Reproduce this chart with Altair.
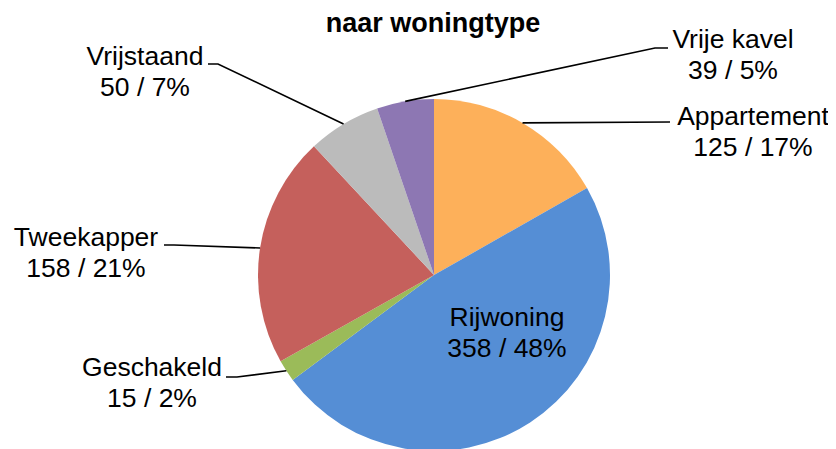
import math
import altair as alt
import pandas as pd

# ---- data ----
categories = ["Appartement", "Rijwoning", "Geschakeld", "Tweekapper", "Vrijstaand", "Vrije kavel"]
values = [125, 358, 15, 158, 50, 39]
colors = ["#FDB05A", "#558ED5", "#9BBB59", "#C5605C", "#BBBBBB", "#8D77B3"]
title_text = "naar woningtype"

# ---- layout (pixels inside the plot area) ----
W, H = 820, 441
CX, CY, R = 426, 267, 176
# label centre (x, y of first line), elbow point, line end point next to the label
label_pos = {
    "Appartement": (745, 109, 662, 114, 662, 114),
    "Rijwoning":   (499, 310, None, None, None, None),
    "Geschakeld":  (144, 360, 229, 369, 218, 369),
    "Tweekapper":  (78, 230, 166, 237, 156, 237),
    "Vrijstaand":  (137, 49, 210, 56, 200, 56),
    "Vrije kavel": (725, 32, 647, 40, 660, 40),
}
LINE_GAP = 31

total = sum(values)
df = pd.DataFrame({"cat": categories, "value": values, "order": range(len(categories))})

# text rows and leader lines
text_rows = []
line_rows = []
cum = 0.0
for c, v in zip(categories, values):
    mid = (cum + v / 2) / total * 2 * math.pi
    cum += v
    lx, ly, ex, ey, tx, ty = label_pos[c]
    pct = round(v / total * 100)
    text_rows.append({"t": c, "x": lx, "y": ly, "cat": c})
    text_rows.append({"t": f"{v} / {pct}%", "x": lx, "y": ly + LINE_GAP, "cat": c})
    if ex is not None:
        px = CX + R * math.sin(mid)
        py = CY - R * math.cos(mid)
        line_rows += [
            {"cat": c, "i": 0, "x": px, "y": py},
            {"cat": c, "i": 1, "x": ex, "y": ey},
            {"cat": c, "i": 2, "x": tx, "y": ty},
        ]
tdf = pd.DataFrame(text_rows)
ldf = pd.DataFrame(line_rows)

pie = alt.Chart(df).mark_arc(radius=R).encode(
    theta=alt.Theta("value:Q", stack=True),
    order=alt.Order("order:Q"),
    color=alt.Color("cat:N", scale=alt.Scale(domain=categories, range=colors), legend=None),
    x=alt.value(CX),
    y=alt.value(CY),
)

lines = alt.Chart(ldf).mark_line(color="black", strokeWidth=1.6).encode(
    x=alt.X("x:Q", scale=None),
    y=alt.Y("y:Q", scale=None),
    detail="cat:N",
    order="i:Q",
)

labels = alt.Chart(tdf).mark_text(
    font="Liberation Sans", fontSize=26.5, color="black", align="center", baseline="middle"
).encode(
    x=alt.X("x:Q", scale=None),
    y=alt.Y("y:Q", scale=None),
    text="t:N",
)

title = alt.Chart(pd.DataFrame({"t": [title_text]})).mark_text(
    font="Liberation Sans", fontSize=27, fontWeight="bold", color="black", align="center", baseline="middle"
).encode(
    x=alt.value(425),
    y=alt.value(16),
    text="t:N",
)

chart = alt.layer(pie, lines, labels, title).properties(
    width=W, height=H, padding=0, autosize=alt.AutoSizeParams(type="none")
).configure_view(stroke=None)

chart.save("out.html", embed_options={"renderer": "svg", "actions": False})
